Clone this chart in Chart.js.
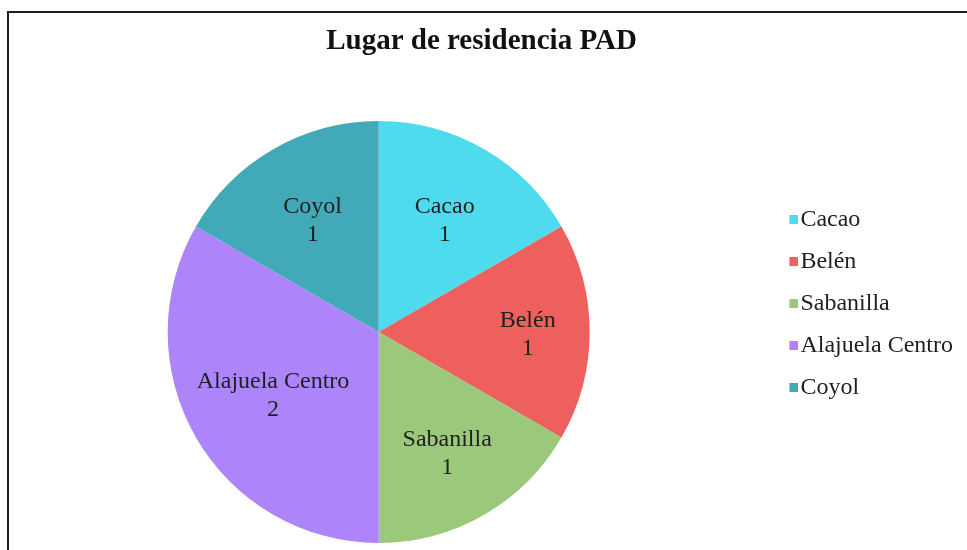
<!DOCTYPE html>
<html>
<head>
<meta charset="utf-8">
<script src="https://cdn.jsdelivr.net/npm/chart.js"></script>
<style>
  html, body { margin: 0; padding: 0; background: #fff; overflow: hidden; }
  #frame {
    position: absolute; left: 7px; top: 11px; width: 2000px; height: 2000px;
    border-top: 2px solid #1e1e1e; border-left: 2px solid #1e1e1e;
  }
  #chart { position: absolute; left: 0; top: 0; }
</style>
</head>
<body>
<div id="frame"></div>
<canvas id="chart" width="967" height="550"></canvas>
<script>
// --------------------------- Datos ---------------------------
const places = ['Cacao', 'Belén', 'Sabanilla', 'Alajuela Centro', 'Coyol'];
const counts = [1, 1, 1, 2, 1];
const sliceColors = ['#4fdbee', '#ee605d', '#9bc87a', '#ad84fa', '#41a9b7'];

const serif = '"Liberation Serif", "Times New Roman", serif';

// cuadrito de la leyenda, corrido a la derecha del hueco que reserva Chart.js
function makeSwatch(color) {
  const c = document.createElement('canvas');
  c.width = 33;
  c.height = 10;
  const g = c.getContext('2d');
  g.fillStyle = color;
  g.fillRect(24, 0, 9, 9);
  return c;
}
const swatches = sliceColors.map(makeSwatch);

// etiquetas "nombre / valor" dentro de cada porción
const sliceLabels = {
  id: 'sliceLabels',
  afterDatasetsDraw(chart, args, opts) {
    const ctx = chart.ctx;
    const meta = chart.getDatasetMeta(0);
    ctx.save();
    ctx.font = '24px ' + serif;
    ctx.fillStyle = '#1f1f1f';
    ctx.textAlign = 'center';
    ctx.textBaseline = 'middle';
    meta.data.forEach((arc, i) => {
      const p = arc.getProps(['x', 'y', 'startAngle', 'endAngle'], true);
      const mid = (p.startAngle + p.endAngle) / 2;
      const d = opts.dist[i];
      const cx = p.x + Math.cos(mid) * d;
      const cy = p.y + Math.sin(mid) * d + 3;
      ctx.fillText(places[i], cx, cy - 14);
      ctx.fillText(String(counts[i]), cx, cy + 14);
    });
    ctx.restore();
  }
};

new Chart(document.getElementById('chart'), {
  type: 'pie',
  data: {
    labels: places,
    datasets: [{
      data: counts,
      backgroundColor: sliceColors,
      borderWidth: 0,
      radius: 211
    }]
  },
  options: {
    responsive: false,
    animation: false,
    layout: { padding: { left: 0, right: 4, top: 0, bottom: 76 } },
    plugins: {
      title: {
        display: true,
        text: 'Lugar de residencia PAD',
        color: '#111',
        font: { family: serif, size: 29, weight: 'bold', lineHeight: 1.2 },
        padding: { top: 24, bottom: 131.2 }
      },
      legend: {
        position: 'right',
        align: 'start',
        fullSize: false,
        maxWidth: 209,
        labels: {
          usePointStyle: true,
          pointStyleWidth: 13,
          padding: 18,
          color: '#1f1f1f',
          font: { family: serif, size: 24 },
          generateLabels(chart) {
            const items = Chart.overrides.pie.plugins.legend.labels.generateLabels(chart);
            items.forEach((it, i) => { it.pointStyle = swatches[i]; });
            return items;
          }
        }
      },
      tooltip: { enabled: false },
      sliceLabels: { dist: [132, 149, 137, 122, 132] }
    }
  },
  plugins: [sliceLabels]
});
</script>
</body>
</html>
